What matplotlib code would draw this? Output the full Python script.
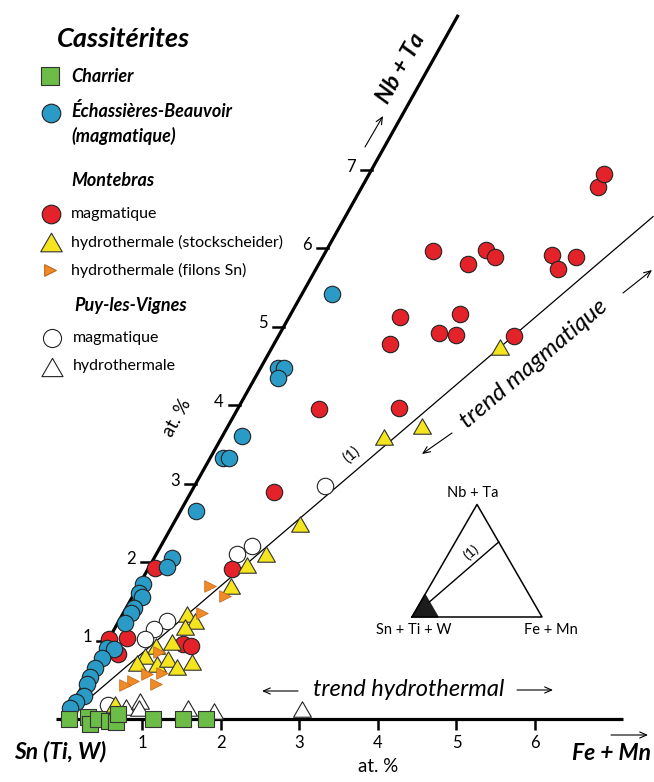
import matplotlib.pyplot as plt
from matplotlib.transforms import Affine2D
from matplotlib.path import Path

plt.rcParams['font.family'] = ['Lato', 'DejaVu Sans']

# Fe+Mn (at. %) and Nb+Ta (at. %)
charrier_fe = [0.06, 0.29, 0.36, 0.43, 0.59, 0.69, 0.65, 1.13, 1.52, 1.81]
charrier_nb = [0.00, 0.02, -0.06, 0.00, -0.03, -0.04, 0.07, 0.00, 0.00, 0.00]

echass_fe = [0.38, 0.22, 0.30, 0.29, 0.25, 0.16, 0.24, 0.20, 0.23, 0.23, 0.04, 0.06, 0.12,
             0.10, 0.10, 0.10, 0.05, 0.14, 0.05, 0.03, 0.03, 0.04, 0.09, 0.03, 0.00]
echass_nb = [5.41, 4.47, 4.47, 4.34, 3.61, 3.32, 3.32, 2.65, 2.05, 1.94, 1.72, 1.61, 1.55,
             1.41, 1.35, 1.22, 0.90, 0.89, 0.78, 0.65, 0.54, 0.45, 0.29, 0.22, 0.14]

mont_mag_fe = [1.36, 1.90, 2.03, 2.19, 2.91, 3.08, 3.23, 3.00, 2.99, 1.41, 1.48, 2.02, 2.25,
               2.16, 3.00, 1.04, 2.05, 1.06, 1.07, 0.08, 0.00, 0.22, 0.22, 0.98, 1.10]
mont_mag_nb = [5.96, 5.80, 5.97, 5.89, 5.91, 5.73, 5.89, 6.78, 6.94, 5.12, 4.78, 4.92, 4.89,
               5.16, 4.88, 3.95, 3.96, 2.89, 1.91, 1.92, 1.02, 1.03, 0.83, 0.96, 0.93]

mont_stock_fe = [2.90, 2.47, 2.06, 1.62, 1.40, 1.23, 1.18, 0.82, 0.97, 0.89, 0.83, 0.65, 0.58,
                 0.53, 0.79, 0.90, 1.07, 1.22, 0.54]
mont_stock_nb = [4.74, 3.73, 3.59, 2.48, 2.10, 1.96, 1.69, 1.34, 1.25, 1.17, 0.98, 0.93, 0.80,
                 0.71, 0.70, 0.76, 0.66, 0.73, 0.19]

mont_filon_fe = [0.91, 1.17, 1.00, 0.74, 0.92, 0.74, 0.61, 0.53, 0.92]
mont_filon_nb = [1.69, 1.57, 1.35, 0.85, 0.59, 0.57, 0.48, 0.43, 0.45]

puy_mag_fe = [1.66, 1.16, 1.03, 0.61, 0.50, 0.46, 0.46]
puy_mag_nb = [2.97, 2.20, 2.10, 1.25, 1.15, 1.02, 0.18]

puy_hyd_fe = [0.70, 0.84, 0.88, 1.50, 1.85, 2.96]
puy_hyd_nb = [0.15, 0.23, 0.14, 0.14, 0.10, 0.13]

trend_fe = [0.19, 3.92]
trend_nb = [0.29, 6.40]

fe_ticks = [1, 2, 3, 4, 5, 6]
nb_ticks = [1, 2, 3, 4, 5, 6, 7]

W, H = 654, 782
fig = plt.figure(figsize=(W / 100, H / 100), dpi=100)
ax = fig.add_axes([0, 0, 1, 1])
unit = 78.5      # pixels per at. %
x0, y0 = 64, 719  # origin in pixels from top-left
ax.set_xlim(-x0 / unit, (W - x0) / unit)
ax.set_ylim(-(H - y0) / unit, y0 / unit)
ax.axis('off')

# Nb+Ta axis leans to the right
skew = 0.56
oblique = Affine2D.from_values(1, 0, skew, 1, 0, 0) + ax.transData


def fp(x, y):
    # pixel position (from top-left) -> figure fraction
    return (x / W, 1 - y / H)


tri = Path([(0, 0.433), (-0.5, -0.433), (0.5, -0.433), (0, 0)],
           [Path.MOVETO, Path.LINETO, Path.LINETO, Path.CLOSEPOLY])

red, blue, green = '#e3222a', '#2a9ac6', '#6cbd47'
yellow, orange = '#f4e51e', '#f08a25'

# axes
ax.plot([0, 0], [0, 8.97], color='black', lw=2.3, transform=oblique, solid_capstyle='butt')
ax.plot([-0.1, 7.12], [0, 0], color='black', lw=2.3, solid_capstyle='butt')
ax.vlines(fe_ticks, -0.14, 0, color='black', lw=1.8)
for t in fe_ticks:
    ax.text(t, -0.31, str(t), ha='center', va='center', fontsize=12)
for t in nb_ticks:
    ax.plot([-0.14, 0], [t, t], color='black', lw=1.8, transform=oblique)
    ax.annotate(str(t), xy=(0, t), xycoords=oblique, xytext=(-16, 3),
                textcoords='offset pixels', ha='right', va='center', fontsize=12)

ax.plot(trend_fe, trend_nb, color='black', lw=0.9, transform=oblique)

# data
ax.scatter(puy_mag_fe, puy_mag_nb, transform=oblique, s=140, marker='o',
           facecolor='white', edgecolor='#222222', linewidths=0.8, zorder=3)
ax.scatter(puy_hyd_fe, puy_hyd_nb, transform=oblique, s=165, marker=tri,
           facecolor='white', edgecolor='#222222', linewidths=0.8, zorder=3)
ax.scatter(mont_mag_fe, mont_mag_nb, transform=oblique, s=140, marker='o',
           facecolor=red, edgecolor='#222222', linewidths=0.8, zorder=4)
ax.scatter(mont_stock_fe, mont_stock_nb, transform=oblique, s=165, marker=tri,
           facecolor=yellow, edgecolor='#333333', linewidths=0.8, zorder=5)
ax.scatter(mont_filon_fe, mont_filon_nb, transform=oblique, s=70, marker='>',
           facecolor=orange, edgecolor='#c0651c', linewidths=0.5, zorder=6)
ax.scatter(echass_fe, echass_nb, transform=oblique, s=140, marker='o',
           facecolor=blue, edgecolor='#222222', linewidths=0.8, zorder=7)
ax.scatter(charrier_fe, charrier_nb, transform=oblique, s=120, marker='s',
           facecolor=green, edgecolor='#333333', linewidths=0.8, zorder=8)

# axis labels and annotations
bi = dict(fontstyle='italic', fontweight='bold')
fig.text(*fp(60, 752), 'Sn (Ti, W)', ha='center', va='center', fontsize=16.5, **bi)
fig.text(*fp(611, 753), 'Fe + Mn', ha='center', va='center', fontsize=16.5, **bi)
fig.text(*fp(401, 68), 'Nb + Ta', ha='center', va='center', fontsize=16.5, rotation=60.75, **bi)
fig.text(*fp(378, 766), 'at. %', ha='center', va='center', fontsize=13.5)
fig.text(*fp(177, 418), 'at. %', ha='center', va='center', fontsize=13.5, rotation=60.75)
fig.text(*fp(534, 364), 'trend magmatique', ha='center', va='center', fontsize=17.5,
         fontstyle='italic', rotation=40.4)
fig.text(*fp(409, 690), 'trend hydrothermal', ha='center', va='center', fontsize=17,
         fontstyle='italic')
fig.text(*fp(352, 455), '(1)', ha='center', va='center', fontsize=11, rotation=40.4)

arrows = [((365, 147), (383, 116)), ((623, 293), (652, 270)), ((452, 433), (422, 454)),
          ((298, 691), (262, 691)), ((517, 690), (553, 690)), ((611, 735), (648, 735))]
for a, b in arrows:
    ax.annotate('', xy=fp(*b), xycoords='figure fraction', xytext=fp(*a),
                textcoords='figure fraction',
                arrowprops=dict(arrowstyle='->,head_length=0.5,head_width=0.22', lw=0.8,
                                color='black', shrinkA=0, shrinkB=0))

# legend
fig.text(*fp(57, 39), 'Cassitérites', ha='left', va='center', fontsize=19.5, **bi)
legend_rows = [
    (50, 76, 's', green, '#333333', 170),
    (51, 113, 'o', blue, '#222222', 180),
    (51, 214, 'o', red, '#222222', 180),
    (51, 242, tri, yellow, '#333333', 240),
    (50, 270, '>', orange, '#c0651c', 70),
    (52, 338, 'o', 'white', '#222222', 170),
    (52, 367, tri, 'white', '#222222', 230),
]
for x, y, m, fc, ec, s in legend_rows:
    ax.scatter([fp(x, y)[0]], [fp(x, y)[1]], transform=fig.transFigure, s=s, marker=m,
               facecolor=fc, edgecolor=ec, linewidths=0.8, clip_on=False)
fig.text(*fp(71, 76), 'Charrier', ha='left', va='center', fontsize=13, **bi)
fig.text(*fp(71, 111), 'Échassières-Beauvoir', ha='left', va='center', fontsize=13, **bi)
fig.text(*fp(71, 136), '(magmatique)', ha='left', va='center', fontsize=13, **bi)
fig.text(*fp(71, 180), 'Montebras', ha='left', va='center', fontsize=13, **bi)
fig.text(*fp(71, 214), 'magmatique', ha='left', va='center', fontsize=11.5)
fig.text(*fp(71, 242), 'hydrothermale (stockscheider)', ha='left', va='center', fontsize=11.5)
fig.text(*fp(71, 270), 'hydrothermale (filons Sn)', ha='left', va='center', fontsize=11.5)
fig.text(*fp(74, 305), 'Puy-les-Vignes', ha='left', va='center', fontsize=13, **bi)
fig.text(*fp(73, 338), 'magmatique', ha='left', va='center', fontsize=11.5)
fig.text(*fp(73, 366), 'hydrothermale', ha='left', va='center', fontsize=11.5)

# inset ternary sketch
ax2 = fig.add_axes([367 / W, 1 - 640 / H, 220 / W, 160 / H])
ax2.set_xlim(-0.346, 1.346)
ax2.set_ylim(-0.177, 1.054)
ax2.axis('off')
ax2.plot([0, 1, 0.5, 0], [0, 0, 0.866, 0], color='black', lw=1.1, clip_on=False)
ax2.fill([0, 0.2, 0.1], [0, 0, 0.173], color='#1c1c1c', clip_on=False)
ax2.plot([0.133, 0.667], [0.115, 0.577], color='black', lw=1.0)
ax2.text(0.454, 0.50, '(1)', ha='center', va='center', fontsize=10, rotation=41)
ax2.text(0.47, 0.954, 'Nb + Ta', ha='center', va='center', fontsize=10.5)
ax2.text(0.015, -0.10, 'Sn + Ti + W', ha='center', va='center', fontsize=10.5)
ax2.text(1.07, -0.10, 'Fe + Mn', ha='center', va='center', fontsize=10.5)

fig.savefig('out.png', dpi=100)
